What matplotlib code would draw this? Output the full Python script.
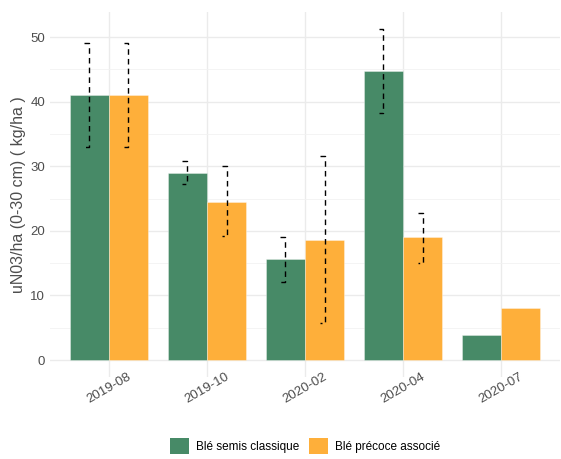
import numpy as np
import matplotlib
matplotlib.use("Agg")
import matplotlib.pyplot as plt
from matplotlib.patches import Patch

plt.rcParams['font.family'] = ['Liberation Sans', 'DejaVu Sans']

dates = ["2019-08", "2019-10", "2020-02", "2020-04", "2020-07"]
series = ["Blé semis classique", "Blé précoce associé"]
colors = ["#478A67", "#FEAF3A"]

# bar heights
classique = [41.0, 29.0, 15.6, 44.8, 3.9]
precoce = [41.0, 24.5, 18.6, 19.0, 8.0]

# error bar limits (None = no bar)
classique_lo = [33.0, 27.2, 12.1, 38.2, None]
classique_hi = [49.1, 30.8, 19.0, 51.3, None]
precoce_lo = [33.0, 19.2, 5.8, 15.1, None]
precoce_hi = [49.1, 30.0, 31.6, 22.8, None]

fig = plt.figure(figsize=[5.61, 4.59], dpi=100)
ax = fig.add_axes([50/561, (459-376.6)/459, 510/561, (376.6-12)/459])

x = np.arange(1, len(dates) + 1)
w = 0.4
cap = 0.05

vals = [classique, precoce]
los = [classique_lo, precoce_lo]
his = [classique_hi, precoce_hi]
for k in range(2):
    xs = x + (k - 0.5) * w
    ax.bar(xs, vals[k], width=w, color=colors[k], edgecolor=(1, 1, 1, 0.4),
           linewidth=0.6, zorder=2)
    for i in range(len(dates)):
        if los[k][i] is None:
            continue
        xc = xs[i]
        ax.plot([xc - cap, xc, xc, xc - cap], [his[k][i], his[k][i], los[k][i], los[k][i]],
                color="black", linewidth=1.0, linestyle=(0, (4, 3)), zorder=3)

ax.set_xlim(0.4, 5.6)
ax.set_ylim(-2.57, 53.9)
ax.set_yticks([0, 10, 20, 30, 40, 50])
ax.set_yticks([5, 15, 25, 35, 45], minor=True)
ax.set_xticks(x)
ax.set_xticklabels(dates, rotation=30, ha="center", va="center", rotation_mode="anchor")

ax.grid(True, which="major", color="#EBEBEB", linewidth=1.0, zorder=0)
ax.grid(True, which="minor", axis="y", color="#F2F2F2", linewidth=0.6, zorder=0)
ax.set_axisbelow(True)
for s in ax.spines.values():
    s.set_visible(False)
ax.tick_params(axis="both", which="both", length=0, colors="#4D4D4D", labelsize=9.5)
ax.tick_params(axis="x", pad=8.6)

ax.set_ylabel("uN03/ha (0-30 cm) ( kg/ha )", fontsize=11.5, color="#4D4D4D", labelpad=3)

handles = [Patch(facecolor=colors[0], edgecolor="none"),
           Patch(facecolor=colors[1], edgecolor="none")]
fig.legend(handles, series, loc="center", bbox_to_anchor=(305/561, 13/459),
           ncol=2, frameon=False, fontsize=8.5, handlelength=1.6, handleheight=1.6,
           columnspacing=0.8, handletextpad=0.6)

plt.savefig("out.png", dpi=100)
